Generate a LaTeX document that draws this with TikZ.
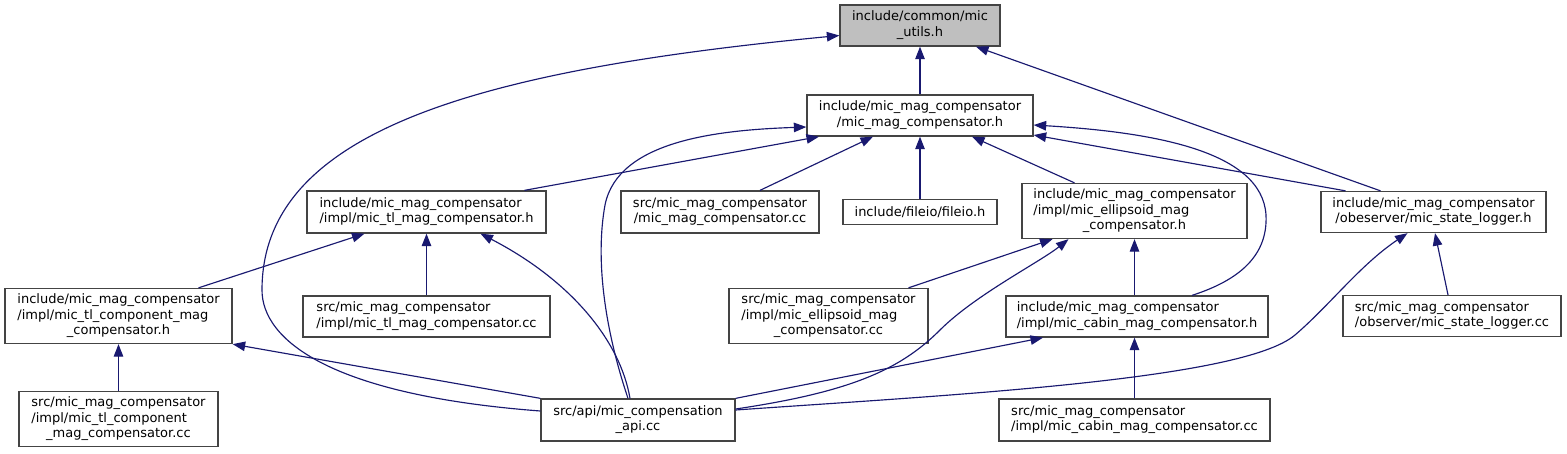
\documentclass[tikz,border=0pt]{standalone}
\usepackage{fontspec}
\setmainfont{DejaVu Sans}
\usetikzlibrary{arrows.meta,calc}
\definecolor{edgeblue}{HTML}{191970}
\definecolor{boxgray}{HTML}{444444}
\definecolor{utilfill}{HTML}{BFBFBF}
\newcommand\dfont{\fontsize{13}{15.5}\selectfont}
\newcommand\dtwo[2]{\begin{tabular}{@{}l@{}}#1\\\multicolumn{1}{@{}c@{}}{#2}\end{tabular}}
\newcommand\dthree[3]{\begin{tabular}{@{}l@{}}#1\\#2\\\multicolumn{1}{@{}c@{}}{#3}\end{tabular}}
\renewcommand{\arraystretch}{1}
\tikzset{
  box/.style={draw=boxgray, line width=1.3pt, fill=white, inner sep=0pt, font=\dfont, text=black},
  edge/.style={draw=edgeblue, line width=1.15pt, -{Triangle[length=12.5pt,width=9.5pt]}},
}
\begin{document}
\begin{tikzpicture}[x=1pt,y=-1pt]
\useasboundingbox (0,0) rectangle (1567,453);
% nodes
\node[box, fill=utilfill, minimum width=160, minimum height=41] (utils) at (920,25.5) {\dtwo{include/common/mic}{\_utils.h}};
\node[box, minimum width=226, minimum height=41] (mmc) at (920,115.5) {\dtwo{include/mic\_mag\_compensator}{/mic\_mag\_compensator.h}};
\node[box, minimum width=239, minimum height=42] (tlh) at (426.5,212) {\dtwo{include/mic\_mag\_compensator}{/impl/mic\_tl\_mag\_compensator.h}};
\node[box, minimum width=198, minimum height=42] (mmccc) at (720,212) {\dtwo{src/mic\_mag\_compensator}{/mic\_mag\_compensator.cc}};
\node[box, minimum width=154, minimum height=25] (fileio) at (920,212) {include/fileio/fileio.h};
\node[box, minimum width=225, minimum height=55] (ellh) at (1134.5,211) {\dthree{include/mic\_mag\_compensator}{/impl/mic\_ellipsoid\_mag}{\_compensator.h}};
\node[box, minimum width=225, minimum height=41] (slh) at (1433.5,212) {\dtwo{include/mic\_mag\_compensator}{/obeserver/mic\_state\_logger.h}};
\node[box, minimum width=227, minimum height=55] (tlch) at (118.5,316) {\dthree{include/mic\_mag\_compensator}{/impl/mic\_tl\_component\_mag}{\_compensator.h}};
\node[box, minimum width=247, minimum height=41] (tlcc) at (426.5,316.5) {\dtwo{src/mic\_mag\_compensator}{/impl/mic\_tl\_mag\_compensator.cc}};
\node[box, minimum width=199, minimum height=55] (ellcc) at (828.5,316) {\dthree{src/mic\_mag\_compensator}{/impl/mic\_ellipsoid\_mag}{\_compensator.cc}};
\node[box, minimum width=262, minimum height=41] (cabh) at (1137,316.5) {\dtwo{include/mic\_mag\_compensator}{/impl/mic\_cabin\_mag\_compensator.h}};
\node[box, minimum width=218, minimum height=41] (slcc) at (1452,316) {\dtwo{src/mic\_mag\_compensator}{/observer/mic\_state\_logger.cc}};
\node[box, minimum width=199, minimum height=55] (tlccc) at (118.5,419) {\dthree{src/mic\_mag\_compensator}{/impl/mic\_tl\_component}{\_mag\_compensator.cc}};
\node[box, minimum width=194, minimum height=42] (api) at (638,420) {\dtwo{src/api/mic\_compensation}{\_api.cc}};
\node[box, minimum width=271, minimum height=42] (cabcc) at (1134.5,420) {\dtwo{src/mic\_mag\_compensator}{/impl/mic\_cabin\_mag\_compensator.cc}};
% edges to utils
\draw[edge] (mmc) -- (utils);
\draw[edge] ($(api.west)+(0,-9)$) .. controls (330,395) and (262,340) .. (262,290) .. controls (262,130) and (480,70) .. ($(utils.west)+(0,10)$);
\draw[edge] ($(slh.north)+(-53,0)$) -- ($(utils.south)+(56,0)$);
% edges to mmc
\draw[edge] ($(tlh.north)+(98,0)$) -- ($(mmc.south)+(-101,0)$);
\draw[edge] ($(api.north)+(-10,0)$) .. controls (605,330) and (595,260) .. (605,205) .. controls (618,140) and (720,130) .. ($(mmc.west)+(0,11.5)$);
\draw[edge] ($(mmccc.north)+(40,0)$) -- ($(mmc.south)+(-47,0)$);
\draw[edge] (fileio) -- (mmc);
\draw[edge] ($(ellh.north)+(-60,0)$) -- ($(mmc.south)+(52,0)$);
\draw[edge] ($(slh.north)+(-88,0)$) -- ($(mmc.east)+(0,19.5)$);
\draw[edge] ($(cabh.north)+(55,0)$) .. controls (1240,280) and (1268,255) .. (1266,215) .. controls (1262,150) and (1150,132) .. ($(mmc.east)+(0,9.5)$);
% edges to tlh
\draw[edge] ($(tlch.north)+(80,0)$) -- ($(tlh.south)+(-62,0)$);
\draw[edge] (tlcc) -- (tlh);
\draw[edge] ($(api.north)+(-8,0)$) .. controls (620,340) and (570,280) .. ($(tlh.south)+(54,0)$);
% edges to ellh
\draw[edge] ($(ellcc.north)+(80,0)$) -- ($(ellh.south)+(-82,0)$);
\draw[edge] ($(api.east)+(0,-11)$) .. controls (850,392) and (900,370) .. (940,330) .. controls (975,295) and (1040,262) .. ($(ellh.south)+(-66,0)$);
\draw[edge] (ellh.south |- cabh.north) -- (ellh.south);
% edges to slh
\draw[edge] ($(slcc.north)+(-4,0)$) -- ($(slh.south)+(1.5,0)$);
\draw[edge] ($(api.east)+(0,-10)$) .. controls (950,395) and (1242,380) .. (1295,335) .. controls (1330,305) and (1360,265) .. ($(slh.south)+(-26,0)$);
% edges to tlch
\draw[edge] (tlccc) -- (tlch);
\draw[edge] (api.north west) -- (tlch.south east);
% edges to cabh
\draw[edge] (api.north east) -- ($(cabh.south)+(-94,0)$);
\draw[edge] (cabcc.north) -- (cabcc.north |- cabh.south);
\end{tikzpicture}
\end{document}
